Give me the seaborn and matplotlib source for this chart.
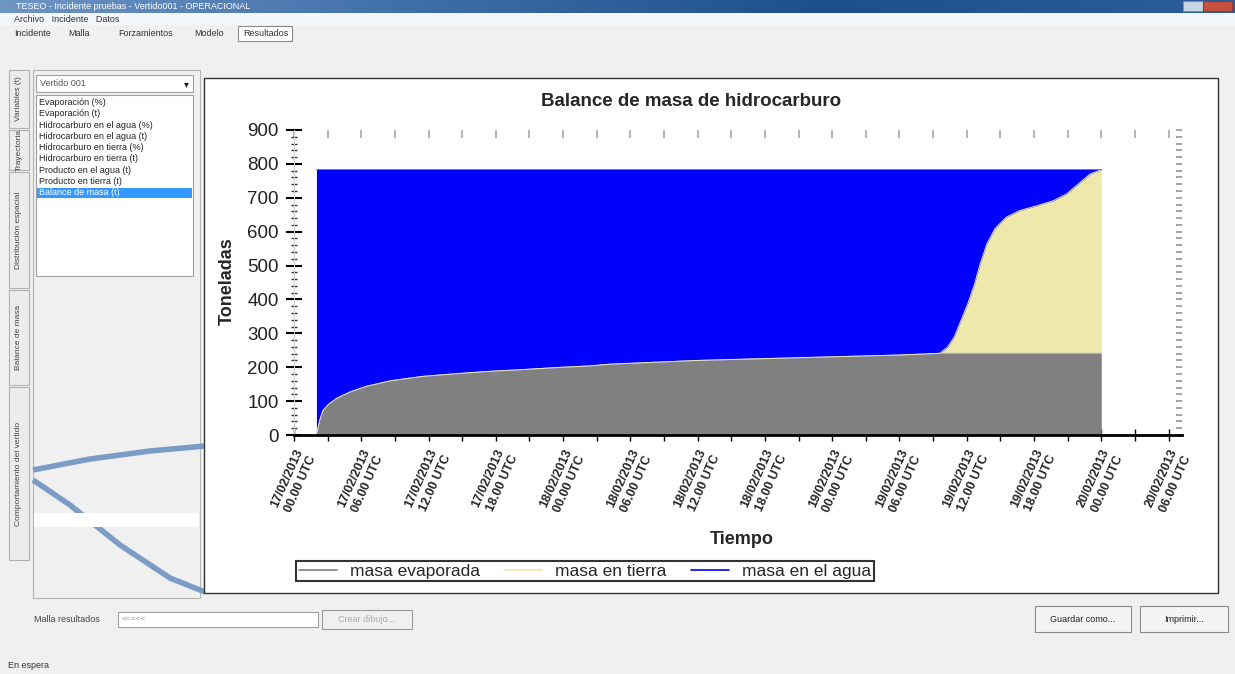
import numpy as np
import pandas as pd
import matplotlib
matplotlib.use("Agg")
import matplotlib.pyplot as plt
import matplotlib.dates as mdates
from matplotlib.patches import Rectangle
from matplotlib.lines import Line2D
from matplotlib.ticker import MultipleLocator
from matplotlib.colors import LinearSegmentedColormap
import seaborn as sns

# datos (horas desde 17/02/2013 00:00 UTC, toneladas)
inicio = pd.Timestamp("2013-02-17 00:00")
horas = [2.0, 2.3, 2.6, 3.1, 3.8, 5.0, 6.5, 8.6, 11.5, 14.5, 17.5, 20.4, 23.4,
         26.4, 28.2, 36.0, 45.0, 54.0, 57.6, 58.3, 58.9, 59.5, 60.1, 60.7,
         61.2, 61.8, 62.5, 63.5, 64.7, 66.2, 67.7, 68.9, 70.1, 71.0, 72.0]
masa_evaporada = [0, 44, 73, 91, 108, 127, 144, 160, 173, 181, 188, 193, 199,
                  204, 209, 220, 228, 236, 241, 241, 241, 241, 241, 241,
                  241, 241, 241, 241, 241, 241, 241, 241, 241, 241, 241]
masa_tierra = [0, 0, 0, 0, 0, 0, 0, 0, 0, 0, 0, 0, 0,
               0, 0, 0, 0, 0, 0, 19, 49, 98, 147, 205,
               264, 323, 367, 401, 421, 435, 450, 470, 504, 529, 542]
masa_agua = [785, 741, 712, 694, 677, 658, 641, 625, 612, 604, 597, 592, 586,
             581, 576, 565, 557, 549, 544, 525, 495, 446, 397, 339,
             280, 221, 177, 143, 123, 109, 94, 74, 40, 15, 2]
series = ["masa evaporada", "masa en tierra", "masa en el agua"]
colores = ["#808080", "#eee8aa", "#0000ff"]
lista_resultados = ["Evaporación (%)", "Evaporación (t)",
                    "Hidrocarburo en el agua (%)", "Hidrocarburo en el agua (t)",
                    "Hidrocarburo en tierra (%)", "Hidrocarburo en tierra (t)",
                    "Producto en el agua (t)", "Producto en tierra (t)",
                    "Balance de masa (t)"]
pestanas = ["Incidente", "Malla", "Forzamientos", "Modelo", "Resultados"]

sns.set_theme(style="white")
plt.rcParams["font.family"] = ["Liberation Sans", "DejaVu Sans"]

W, H = 1235, 674
fig = plt.figure(figsize=(W / 100, H / 100), dpi=100)
fig.patch.set_facecolor("#f0f0f0")

# ---- ventana de la aplicacion (fondo) ----
ui = fig.add_axes([0, 0, 1, 1])
ui.axis("off")
cmap_barra = LinearSegmentedColormap.from_list("barra", ["#6f95c4", "#3f6fa8", "#1d4f8c", "#2b5d9a"])
ui.imshow(np.linspace(0, 1, 256)[None, :], cmap=cmap_barra, aspect="auto",
          extent=(0, W, 13, 0), zorder=0)
ui.set_xlim(0, W)
ui.set_ylim(H, 0)


def caja(x0, y0, x1, y1, fc="white", ec="#a0a0a0", lw=0.8, z=1):
    ui.add_patch(Rectangle((x0, y0), x1 - x0, y1 - y0, facecolor=fc,
                           edgecolor=ec, linewidth=lw, zorder=z))


caja(0, 13, W, 25, fc="#f4f6fa", ec="none")
caja(1183, 1, 1203, 11, fc="#c9d6e6", ec="#7d8fa8", z=2)
caja(1203, 1, 1232, 11, fc="#c8503f", ec="#8a3a30", z=2)
ui.text(16, 6.5, "TESEO - Incidente pruebas - Vertido001 - OPERACIONAL",
        fontsize=6.5, color="white", va="center", zorder=3)
ui.text(14, 19, "Archivo   Incidente   Datos", fontsize=6.5, color="#333",
        va="center", zorder=3)
tab_x = [14, 68, 118, 194, 243]
for x, t in zip(tab_x, pestanas):
    ui.text(x, 34, t, fontsize=6.5, color="#333", va="center", zorder=3)
caja(238, 26, 292, 41, fc="white", ec="#8a8a8a")
caja(33, 70, 200, 598, fc="#f0f0f0", ec="#b5b5b5")
caja(34, 513, 199, 527, fc="white", ec="none", z=1.6)

# lista de resultados
caja(36, 75, 193, 92)
ui.text(40, 83.5, "Vertido 001", fontsize=6.5, color="#555", va="center")
ui.text(186, 84, "▾", fontsize=7, color="#222", va="center", ha="center")
caja(36, 95, 193, 276)
for i, t in enumerate(lista_resultados):
    y = 102.7 + 11.25 * i
    if i == len(lista_resultados) - 1:
        caja(37, y - 5, 192, y + 5, fc="#3399ff", ec="none", z=2)
    ui.text(39, y, t, fontsize=6.5, color="#222" if i < 8 else "white",
            va="center", zorder=3)

# pestañas verticales
for (y0, y1, t) in [(70, 128, "Variables (t)"), (130, 170, "Trayectoria"),
                    (172, 288, "Distribución espacial"), (290, 385, "Balance de masa"),
                    (387, 560, "Comportamiento del vertido")]:
    caja(9, y0, 29, y1, fc="#ececec", ec="#b0b0b0")
    ui.text(19, (y0 + y1) / 2, t, fontsize=6, rotation=90, color="#444",
            ha="center", va="center", zorder=3)

# arcos decorativos
ui.plot([33, 90, 150, 205], [470, 459, 451, 446], color="#7b9cc6", lw=4,
        solid_capstyle="butt", zorder=1.5)
ui.plot([33, 70, 120, 170, 205], [480, 505, 545, 578, 592], color="#7b9cc6",
        lw=4, solid_capstyle="butt", zorder=1.5)

# parte inferior
ui.text(34, 619, "Malla resultados", fontsize=6.5, color="#444", va="center")
caja(118, 612, 318, 627)
ui.text(122, 619.5, "<<<<<", fontsize=6, color="#999", va="center")
caja(322, 610, 412, 629, fc="#f0f0f0", ec="#9a9a9a")
ui.text(367, 619.5, "Crear dibujo...", fontsize=6.5, color="#aaa",
        ha="center", va="center")
caja(1035, 606, 1131, 632, fc="#f4f4f4", ec="#8a8a8a")
ui.text(1083, 619, "Guardar como...", fontsize=6.5, color="#222",
        ha="center", va="center")
caja(1140, 606, 1228, 632, fc="#f4f4f4", ec="#8a8a8a")
ui.text(1184, 619, "Imprimir...", fontsize=6.5, color="#222",
        ha="center", va="center")
ui.text(8, 665, "En espera", fontsize=6.5, color="#333", va="center")

# panel del grafico
caja(204, 78, 1218, 593, fc="white", ec="#333333", lw=1.0, z=4)

# ---- grafico ----
x0, x1, y0, y1 = 294, 1182, 130, 435
ax = fig.add_axes([x0 / W, 1 - y1 / H, (x1 - x0) / W, (y1 - y0) / H])
ax.set_zorder(5)
ax.set_facecolor("none")

fechas = inicio + pd.to_timedelta(horas, unit="h")
ax.stackplot(fechas, masa_evaporada, masa_tierra, masa_agua,
             colors=colores, linewidth=0)

tope = np.cumsum([masa_evaporada, masa_tierra, masa_agua], axis=0)
df = pd.DataFrame({
    "fecha": np.tile(fechas, 3),
    "toneladas": tope.ravel(),
    "serie": np.repeat(series, len(horas)),
})
sns.lineplot(data=df, x="fecha", y="toneladas", hue="serie",
             palette=dict(zip(series, ["#9a9ad8", "#eee8aa", "#6f6fff"])),
             estimator=None, sort=False, lw=0.7, legend=False, ax=ax)

ax.set_xlim(inicio, inicio + pd.Timedelta(hours=79.2))
ax.set_ylim(0, 900)
ax.set_xlabel("")
ax.set_ylabel("")
ax.xaxis.set_major_locator(mdates.HourLocator(byhour=[0, 6, 12, 18]))
ax.xaxis.set_minor_locator(mdates.HourLocator(byhour=range(0, 24, 3)))
ax.xaxis.set_major_formatter(mdates.DateFormatter("%d/%m/%Y\n%H.%M UTC"))
ax.yaxis.set_major_locator(MultipleLocator(100))
ax.yaxis.set_minor_locator(MultipleLocator(20))

for s in ["top", "right"]:
    ax.spines[s].set_visible(False)
ax.spines["bottom"].set_color("black")
ax.spines["bottom"].set_linewidth(2)
ax.spines["left"].set_color("#d0d0d0")
ax.spines["left"].set_linewidth(0.8)

ax.tick_params(axis="x", which="both", bottom=True, direction="inout",
               length=8, width=1, color="black")
ax.tick_params(axis="x", which="major", labelsize=9, pad=5, labelrotation=66)
ax.tick_params(axis="y", which="major", left=True, direction="inout",
               length=12, width=1.5, color="black", labelsize=13.5,
               labelcolor="#222", pad=5)
ax.tick_params(axis="y", which="minor", left=True, direction="inout",
               length=5, width=1, color="#333")
for lab in ax.get_xticklabels():
    lab.set_ha("right")
    lab.set_rotation_mode("anchor")
    lab.set_fontweight("bold")
    lab.set_linespacing(1.3)

# marcas tenues arriba y a la derecha
arriba = ax.secondary_xaxis("top")
arriba.xaxis.set_major_locator(mdates.HourLocator(byhour=range(0, 24, 3)))
arriba.tick_params(direction="in", length=6, color="#aaa", labeltop=False)
arriba.spines["top"].set_visible(False)
derecha = ax.secondary_yaxis("right")
derecha.yaxis.set_major_locator(MultipleLocator(20))
derecha.tick_params(direction="in", length=4, color="#999", labelright=False)
derecha.spines["right"].set_visible(False)

fig.text(691 / W, 1 - 102 / H, "Balance de masa de hidrocarburo",
         fontsize=13.5, fontweight="bold", ha="center", va="center", zorder=6)
fig.text(227 / W, 1 - 281 / H, "Toneladas", fontsize=13, fontweight="bold",
         rotation=90, ha="center", va="center", zorder=6)
fig.text(742 / W, 1 - 540 / H, "Tiempo", fontsize=13, fontweight="bold",
         ha="center", va="center", zorder=6)

handles = [Line2D([], [], color=c, lw=1.2) for c in colores]
leg = fig.legend(handles, series, loc="center", ncol=3,
                 bbox_to_anchor=(585 / W, 1 - 571 / H), fontsize=12.5,
                 frameon=True, fancybox=False, edgecolor="black",
                 handlelength=2.2, handletextpad=0.75, columnspacing=1.4,
                 borderpad=0.15, borderaxespad=0)
leg.get_frame().set_linewidth(1.5)
leg.set_zorder(6)

fig.savefig("out.png", dpi=100, facecolor=fig.get_facecolor())
